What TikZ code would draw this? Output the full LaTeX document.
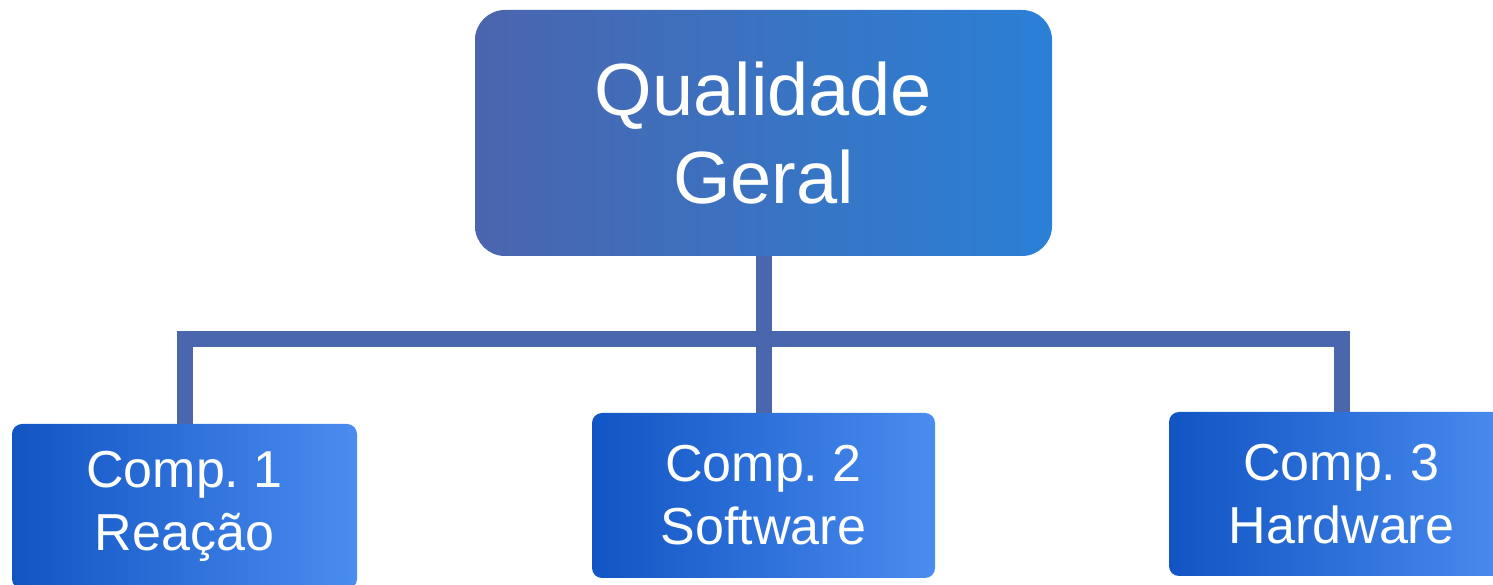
\documentclass[tikz,border=0pt]{standalone}
\usepackage{fontspec}
\setmainfont{Liberation Sans}
\frenchspacing
\begin{document}
\begin{tikzpicture}[x=1pt,y=1pt]
\definecolor{topLeft}{RGB}{74,101,173}
\definecolor{topRight}{RGB}{42,128,214}
\definecolor{compLeft}{RGB}{17,85,196}
\definecolor{compRight}{RGB}{74,140,239}
\definecolor{drawColor}{RGB}{74,103,173}
\tikzset{
  topbox/.style={rectangle, rounded corners=30pt, left color=topLeft, right color=topRight,
    text=white, align=center, inner sep=0pt, minimum width=577pt, minimum height=246pt,
    font=\fontsize{74}{88}\selectfont},
  compbox/.style={rectangle, rounded corners=10pt, left color=compLeft, right color=compRight,
    text=white, align=center, inner sep=0pt, minimum width=345pt, minimum height=165pt,
    font=\fontsize{52}{63}\selectfont},
  link/.style={draw=drawColor, line width=16pt, line join=miter}
}
\useasboundingbox (0,0) rectangle (1493,585);
\clip (0,0) rectangle (1493,585);

\node[topbox] (geral) at (763.5,452) {Qualidade\\Geral};
\node[compbox] (comp1) at (184.5,78.5) {Comp. 1\\Reação};
\node[compbox, minimum width=343pt] (comp2) at (763.5,89.5) {Comp. 2\\Software};
\node[compbox, minimum height=164pt] (comp3) at (1341.5,91) {Comp. 3\\Hardware};

\coordinate (bar) at (763.5,246);
\draw[link] (comp1.north) |- (comp3.north |- bar) -- (comp3.north);
\draw[link] (geral.south) -- (comp2.north);
\end{tikzpicture}
\end{document}
